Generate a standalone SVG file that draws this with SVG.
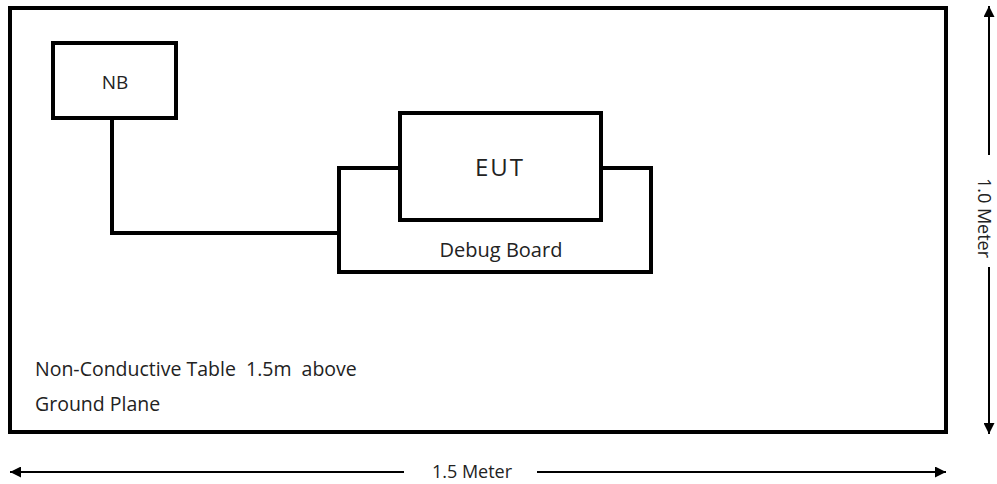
<svg xmlns="http://www.w3.org/2000/svg" width="997" height="484" viewBox="0 0 997 484">
<defs>
<style>
.box{fill:none;stroke:#000;stroke-width:4}
.wire{fill:none;stroke:#000;stroke-width:4}
.dim{fill:none;stroke:#000;stroke-width:2}
.t{font-family:"Open Sans","Liberation Sans",sans-serif;fill:#222}
</style>
<marker id="ah" viewBox="0 0 10 10" refX="10" refY="5" markerWidth="9" markerHeight="5.5" markerUnits="strokeWidth" orient="auto-start-reverse">
<path d="M0,0 L10,5 L0,10 Z" fill="#000"/>
</marker>
</defs>
<rect width="997" height="484" fill="#fff"/>
<g id="table">
<rect class="box" x="10" y="8" width="936" height="424"/>
<text class="t" x="35" y="376" font-size="19.5" xml:space="preserve">Non-Conductive Table  1.5m  above</text>
<text class="t" x="35" y="411" font-size="19.5">Ground Plane</text>
</g>
<g id="connectors">
<polyline class="wire" points="112,118 112,233 339,233"/>
</g>
<g id="nb">
<rect class="box" x="53" y="43" width="123" height="75"/>
<text class="t" x="115" y="89" font-size="19" text-anchor="middle">NB</text>
</g>
<g id="debug-board">
<polyline class="box" points="400,168 339,168 339,272 651,272 651,168 601,168"/>
<text class="t" x="501" y="257" font-size="20" text-anchor="middle">Debug Board</text>
</g>
<g id="eut">
<rect class="box" x="400" y="113" width="201" height="107"/>
<text class="t" x="500" y="176" font-size="24" letter-spacing="2" text-anchor="middle">EUT</text>
</g>
<g id="dim-width">
<line class="dim" x1="404" y1="472" x2="10" y2="472" marker-end="url(#ah)"/>
<line class="dim" x1="537" y1="472" x2="946" y2="472" marker-end="url(#ah)"/>
<text class="t" x="472" y="478" font-size="18" text-anchor="middle">1.5 Meter</text>
</g>
<g id="dim-height">
<line class="dim" x1="989" y1="155" x2="989" y2="6" marker-end="url(#ah)"/>
<line class="dim" x1="989" y1="267" x2="989" y2="434" marker-end="url(#ah)"/>
<text class="t" x="0" y="0" font-size="18" text-anchor="middle" transform="translate(978,218) rotate(90)">1.0 Meter</text>
</g>
</svg>
